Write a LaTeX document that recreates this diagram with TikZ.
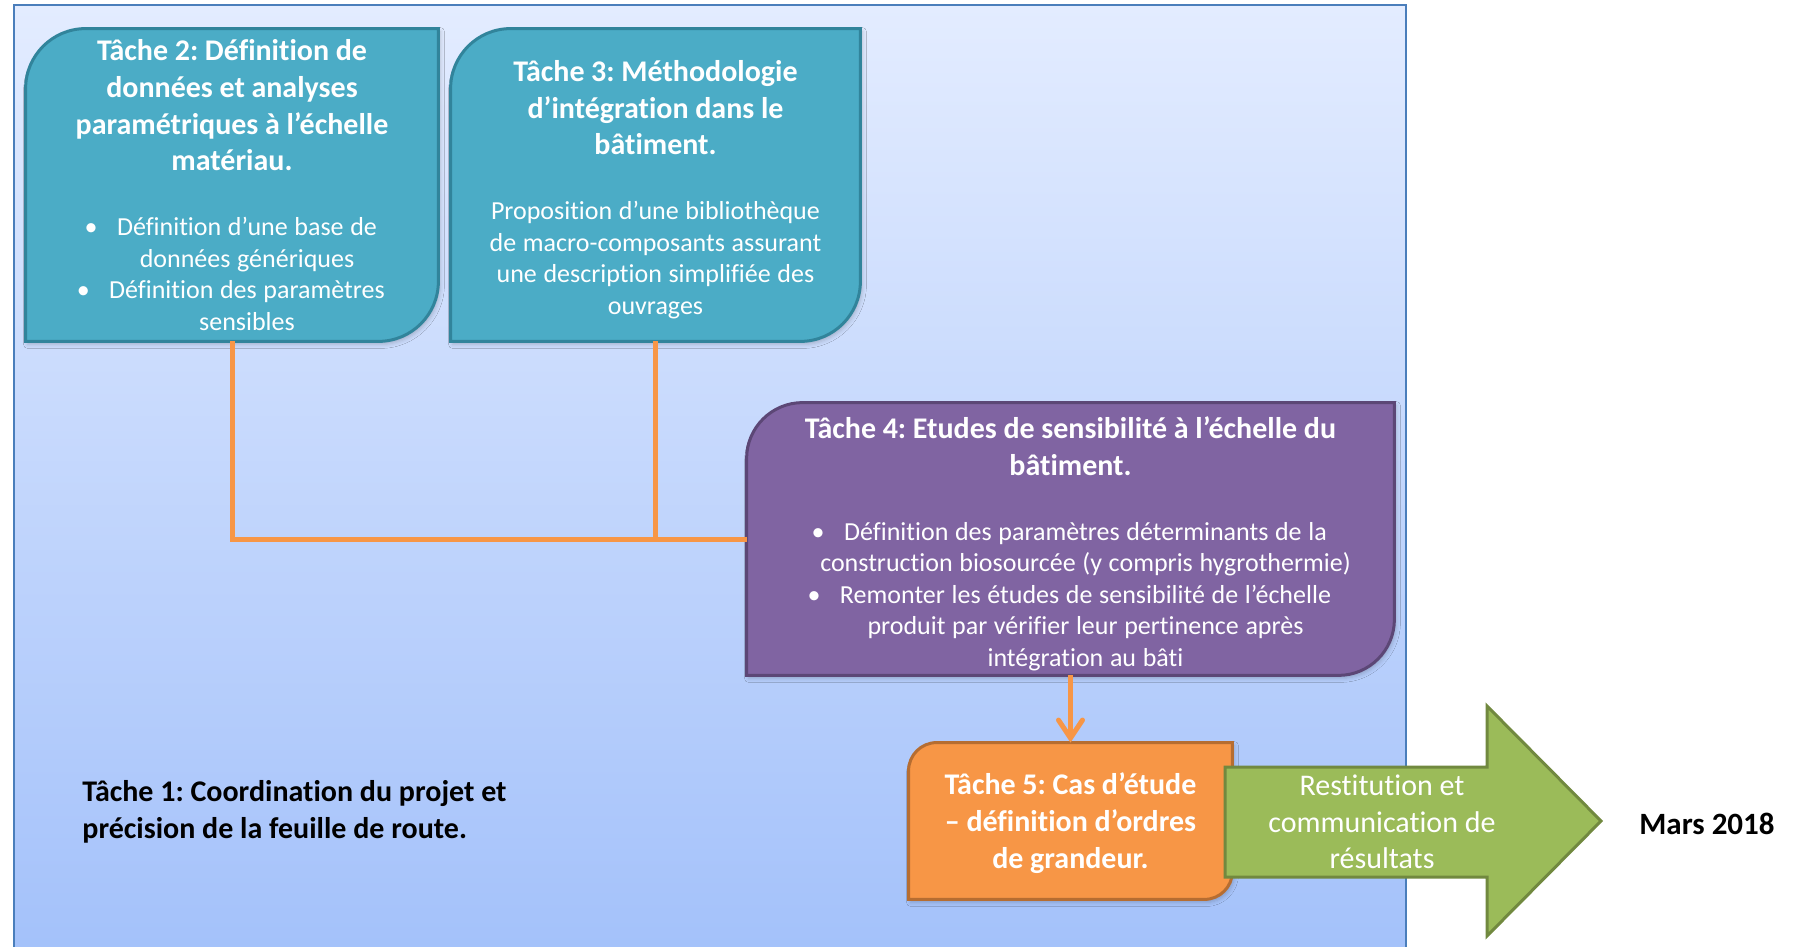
\documentclass[tikz,border=0pt]{standalone}
\usepackage{fontspec}
\setmainfont{Carlito}[Ligatures=NoCommon]
\usepackage{tikz}
\usepackage{xcolor}
\usetikzlibrary{arrows.meta, backgrounds, shadows.blur}

\definecolor{bleufond}{HTML}{4A7EBB}
\definecolor{fondhaut}{RGB}{227,236,255}
\definecolor{fondbas}{RGB}{163,193,250}
\definecolor{tealfond}{HTML}{4BACC6}
\definecolor{tealbord}{HTML}{31849B}
\definecolor{violetfond}{HTML}{8064A2}
\definecolor{violetbord}{HTML}{5C4776}
\definecolor{orangefond}{HTML}{F79646}
\definecolor{orangebord}{HTML}{B66D31}
\definecolor{vertfond}{HTML}{9BBB59}
\definecolor{vertbord}{HTML}{71893F}

\setlength{\parindent}{0pt}
\frenchspacing

% texte des taches
\newcommand{\titre}[1]{{\fontsize{15}{18.35}\selectfont\bfseries #1\par}}
\newcommand{\corps}[1]{{\fontsize{13}{15.75}\selectfont #1\par}}
\newcommand{\puces}[1]{{\fontsize{13}{15.75}\selectfont\leftskip=15pt plus 1fil #1\par}}
\newcommand{\puce}{\leavevmode\llap{\textbullet\hspace{0.75em}}}

% forme a deux coins arrondis (haut gauche, bas droite)
\newcommand{\formediag}[4]{%
  \begin{scope}[on background layer]
    \draw[line width=1.5pt, draw=#4, fill=#3, blur shadow={shadow xshift=1pt, shadow yshift=-1.5pt, shadow opacity=20, shadow blur radius=2pt}]
      (#1.south west) -- ([yshift=-#2]#1.north west)
      arc[start angle=180, end angle=90, radius=#2] -- (#1.north east)
      -- ([yshift=#2]#1.south east)
      arc[start angle=0, end angle=-90, radius=#2] -- cycle;
  \end{scope}}

\tikzset{
  tache/.style={text=white, inner sep=0pt, align=center},
  lien/.style={draw=orangefond, line width=2.5pt}
}

\begin{document}
\begin{tikzpicture}[x=0.5pt, y=-0.5pt]
  \useasboundingbox (0,0) rectangle (1801,947);

  \begin{scope}[on background layer]
    \shade[top color=fondhaut, bottom color=fondbas, draw=bleufond, line width=1pt]
      (14,5) rectangle (1406,960);
  \end{scope}

  \node[tache, minimum width=206pt, minimum height=156pt, text width=190pt] (t2) at (232,185) {%
    \centering
    \titre{Tâche 2: Définition de\\ données et analyses\\ paramétriques à l’échelle\\ matériau.}
    \vspace{16.75pt}
    \puces{\puce Définition d’une base de\\ données génériques\par
      \puce Définition des paramètres\\ sensibles}};
  \formediag{t2}{30pt}{tealfond}{tealbord}

  \node[tache, minimum width=204.5pt, minimum height=156pt, text width=190pt] (t3) at (655.5,185) {%
    \centering
    \titre{Tâche 3: Méthodologie\\ d’intégration dans le\\ bâtiment.}
    \vspace{16.75pt}
    \corps{Proposition d’une bibliothèque\\ de macro-composants assurant\\ une description simplifiée des\\ ouvrages}
    \vspace{-4.6pt}};
  \formediag{t3}{30pt}{tealfond}{tealbord}

  \node[tache, minimum width=323.5pt, minimum height=136pt, text width=310pt] (t4) at (1070.5,539) {%
    \centering
    \titre{Tâche 4: Etudes de sensibilité à l’échelle du\\ bâtiment.}
    \vspace{16.75pt}
    \puces{\puce Définition des paramètres déterminants de la\\ construction biosourcée (y compris hygrothermie)\par
      \puce Remonter les études de sensibilité de l’échelle\\ produit par vérifier leur pertinence après\\ intégration au bâti}
    \vspace{-4.6pt}};
  \formediag{t4}{28pt}{violetfond}{violetbord}

  \node[tache, minimum width=161.5pt, minimum height=78pt, text width=150pt] (t5) at (1070.5,821) {%
    \centering
    \titre{Tâche 5: Cas d’étude\\ – définition d’ordres\\ de grandeur.}
    \vspace{-2pt}};
  \formediag{t5}{14pt}{orangefond}{orangebord}

  % fleche de restitution
  \draw[line width=1.5pt, draw=vertbord, fill=vertfond]
    (1225,767) -- (1487,767) -- (1487,706) -- (1601,821) -- (1487,936) -- (1487,877) -- (1225,877) -- cycle;
  \node[text=white, inner sep=0pt, align=center, font=\fontsize{15}{18.35}\selectfont] (res) at (1382,822)
    {Restitution et\\ communication de\\ résultats};

  \node[inner sep=0pt, align=left, anchor=west, font=\fontsize{15}{18.35}\selectfont\bfseries] (t1) at (82,812)
    {Tâche 1: Coordination du projet et\\ précision de la feuille de route.};

  \node[inner sep=0pt, font=\fontsize{15.5}{18}\selectfont\bfseries] (date) at (1707,824) {Mars 2018};

  \begin{scope}[on background layer]
    \draw[lien] (t2.south) |- (t4.west);
    \draw[lien] (t3.south) -- (t3.south |- t4.west);
  \end{scope}
  \draw[lien, -{Straight Barb[length=9pt, width=12pt, line cap=round]}] (t4.south) -- (t5.north);
\end{tikzpicture}
\end{document}
